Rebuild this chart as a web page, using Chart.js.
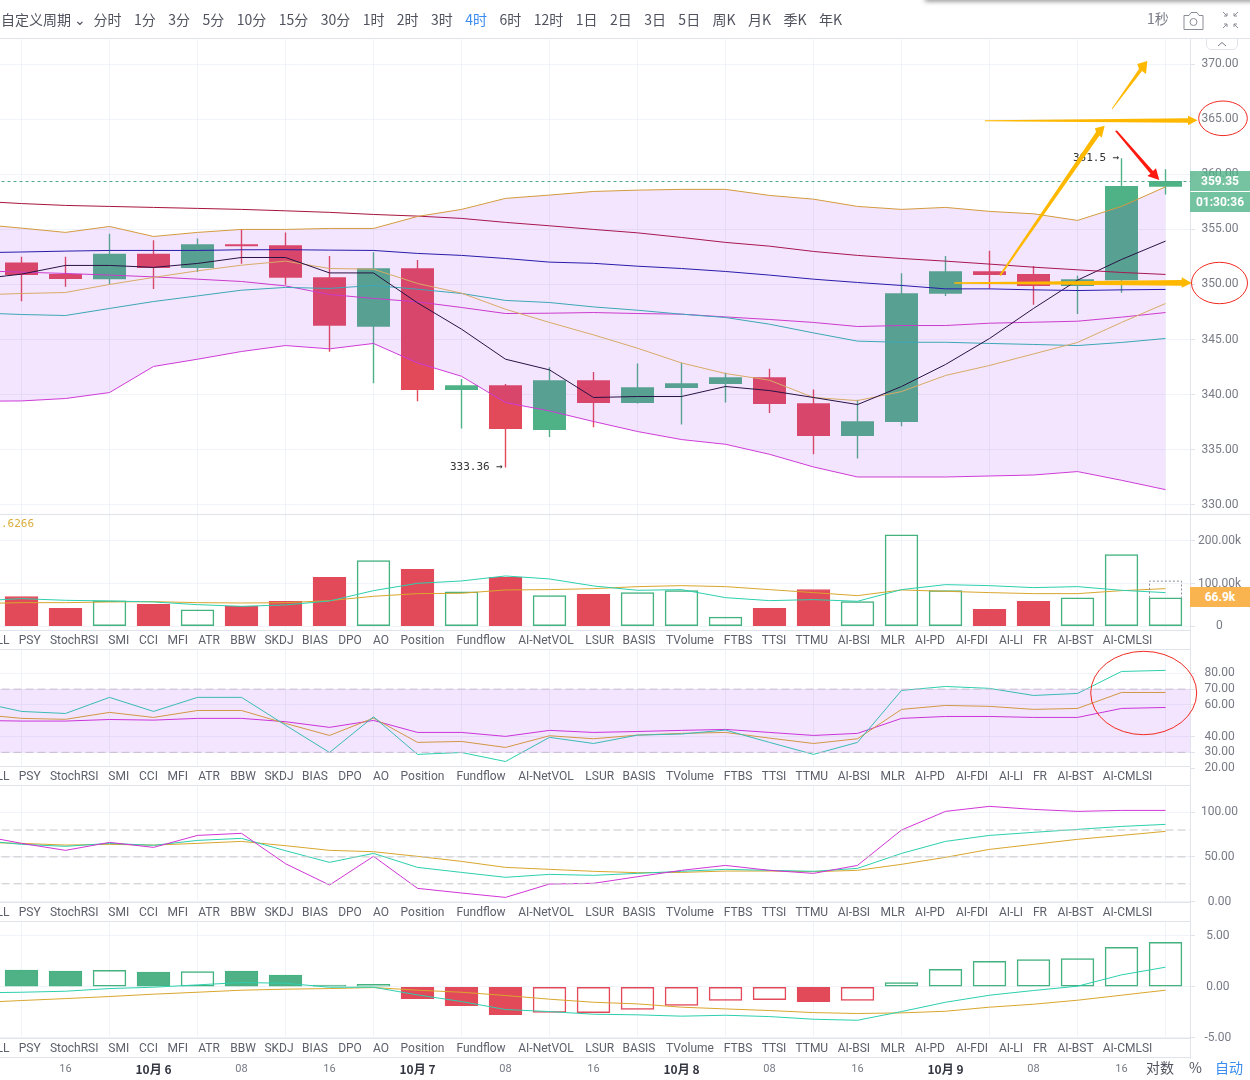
<!DOCTYPE html>
<html lang="zh">
<head>
<meta charset="utf-8">
<title>4时 K线</title>
<script src="https://cdn.jsdelivr.net/npm/chart.js@4/dist/chart.umd.min.js"></script>
<style>
  html, body { margin: 0; padding: 0; background: #fff; }
  #page { position: relative; width: 1250px; height: 1080px; overflow: hidden; font-family: Roboto, "Noto Sans CJK SC", sans-serif; }
  canvas { position: absolute; left: 0; top: 0; }
  .abs { position: absolute; white-space: nowrap; }
  #toolbar { left: 1px; top: 0; height: 37px; display: flex; gap: 12.45px; align-items: center; font: 14px "Noto Sans CJK SC", sans-serif; color: #50535e; }
  #toolbar .active { color: #3b8cf0; }
  #toolbar span:first-child { margin-right: -5px; }
  .tabs { left: 0; width: 1190px; height: 18px; line-height: 18px; background: #fff; border-top: 1px solid #e0e3eb; border-bottom: 1px solid #e0e3eb; font: 12px/18px Roboto, sans-serif; color: #5d606b; overflow: hidden; }
  .tabs span { position: absolute; top: 0; transform: translateX(-50%); }
  .rule { left: 0; width: 1250px; height: 1px; background: #e0e3eb; }
  .mono { font: 11px "DejaVu Sans Mono", monospace; color: #333; }
  .badge { left: 1190px; width: 60px; text-align: center; color: #fff; font: bold 12px Roboto, sans-serif; }
  .foot { top: 1058px; font: 14px "Noto Sans CJK SC", sans-serif; color: #50535e; line-height: 19px; }
</style>
</head>
<body>
<div id="page">
  <canvas id="chart" width="1250" height="1080"></canvas>

  <div class="abs" style="left:925px;top:-4px;width:330px;height:4px;box-shadow:0 1px 5px rgba(0,0,0,.55)"></div>
  <div class="abs" id="toolbar"></div>
  <div class="abs rule" style="top:38px"></div>
  <div class="abs rule" style="top:514px"></div>
  <div class="abs" style="left:1147px;top:8px;font:14px 'Noto Sans CJK SC',sans-serif;color:#787b86">1秒</div>

  <svg class="abs" style="left:1180px;top:8px" width="64" height="24" viewBox="0 0 64 24" fill="none" stroke="#8a8d96" stroke-width="1">
    <path d="M4 7.5h5l2-3h6l2 3h4v14H4z"/>
    <circle cx="13.5" cy="14" r="3.5"/>
    <path d="M43 4l4 4M47 5v3h-3M58 4l-4 4M54 5v3h3M43 20l4-4M47 19v-3h-3M58 20l-4-4M54 19v-3h3"/>
  </svg>
  <svg class="abs" style="left:1206px;top:39px" width="32" height="11" fill="#fff" stroke="#e0e3eb">
    <path d="M0.5 0v7l3 3.5h25l3-3.5V0"/>
    <path d="M12 7l4-3.5 4 3.5" stroke="#787b86" fill="none"/>
  </svg>

  <div class="abs mono" style="left:1px;top:517px;color:#d9ae3f">.6266</div>
  <div class="abs mono" style="left:450px;top:460px">333.36 →</div>
  <div class="abs mono" style="left:1073px;top:151px">361.5 →</div>

  <div class="abs badge" style="top:171px;height:20px;line-height:20px;background:rgba(78,178,134,.78)">359.35</div>
  <div class="abs badge" style="top:192px;height:20px;line-height:20px;background:#73c3a0">01:30:36</div>
  <div class="abs badge" style="top:587px;height:20px;line-height:20px;background:#f9b44f">66.9k</div>

  <div class="abs foot" style="left:1146px">对数</div>
  <div class="abs foot" style="left:1189px">%</div>
  <div class="abs foot" style="left:1215px;color:#3b8cf0">自动</div>

  <!-- hand drawn marks on top of the chart -->
  <svg class="abs" style="left:0;top:0" width="1250" height="1080">
    <g fill="#ffb800">
      <polygon points="999.3,275 1096,132 1095,128.3 1104.7,125.7 1101.7,137.7 1099.5,135.5 1000.8,276"/>
      <polygon points="1111.7,108.7 1139,69 1137.3,64 1147.3,61 1146,74 1142,71 1112.5,109"/>
      <polygon points="985,120.3 1188,118.3 1188,115.7 1197.5,120.3 1188,125.3 1188,122.7 985,121.3"/>
      <polygon points="954.3,282.3 1181.7,280 1181.7,277.3 1191.7,283 1181.7,287.7 1181.7,285.7 954.3,283.7"/>
    </g>
    <polygon fill="#ff1a10" points="1115,131 1117,130.5 1153,171 1156,168.3 1159.3,180 1147.3,176 1150.5,173.8"/>
    <g fill="none" stroke="#f02a20" stroke-width="1">
      <ellipse cx="1223" cy="118.3" rx="24.3" ry="17.3"/>
      <ellipse cx="1219.5" cy="283" rx="28" ry="20.7"/>
      <ellipse cx="1143.7" cy="693" rx="53" ry="41.7"/>
    </g>
  </svg>
</div>

<script>
const periods = ['自定义周期 ⌄', '分时', '1分', '3分', '5分', '10分', '15分', '30分', '1时', '2时', '3时', '4时', '6时', '12时', '1日', '2日', '3日', '5日', '周K', '月K', '季K', '年K'];
const activePeriod = '4时';
const indicatorTabs = ['LL', 'PSY', 'StochRSI', 'SMI', 'CCI', 'MFI', 'ATR', 'BBW', 'SKDJ', 'BIAS', 'DPO', 'AO', 'Position', 'Fundflow', 'AI-NetVOL', 'LSUR', 'BASIS', 'TVolume', 'FTBS', 'TTSI', 'TTMU', 'AI-BSI', 'MLR', 'AI-PD', 'AI-FDI', 'AI-LI', 'FR', 'AI-BST', 'AI-CMLSI'];
const tabCenters = [3, 29.7, 74.2, 118.8, 148.5, 177.8, 209, 243, 279, 315, 350, 381, 422.5, 481, 546, 599.7, 639, 690, 738, 774, 811.8, 853.9, 892.7, 930, 972, 1011, 1040, 1075.5, 1127.5];

// bottom axis, one label every second candle starting at candle 1
const timeLabels = ['16', '10月 6', '08', '16', '10月 7', '08', '16', '10月 8', '08', '16', '10月 9', '08', '16'];

// candles
const candleOpen = [352.0, 350.96, 350.48, 352.8, 351.5, 353.66, 353.57, 350.66, 346.15, 351.48, 340.42, 340.85, 336.78, 341.3, 339.24, 340.6, 340.96, 341.57, 339.2, 336.24, 337.5, 349.15, 351.2, 350.94, 349.87, 350.39, 358.87];
const candleClose = [350.87, 350.5, 352.8, 351.5, 353.66, 353.48, 350.6, 346.24, 351.48, 340.42, 340.85, 336.87, 341.3, 339.24, 340.66, 341.03, 341.57, 339.15, 336.24, 337.57, 349.2, 351.2, 350.85, 349.87, 350.48, 358.94, 359.39];
const candleHigh = [352.5, 352.5, 354.6, 354.0, 354.15, 355.0, 354.7, 352.57, 352.9, 352.2, 341.4, 340.94, 342.45, 342.03, 342.8, 342.87, 341.96, 342.33, 340.45, 339.5, 351.0, 352.57, 353.05, 351.66, 350.78, 361.45, 360.45];
const candleLow = [348.5, 349.8, 350.03, 349.6, 351.15, 351.9, 350.0, 343.9, 341.05, 339.4, 336.94, 333.4, 336.15, 337.05, 339.2, 337.3, 339.3, 338.33, 334.6, 334.2, 337.14, 348.96, 349.64, 348.18, 347.33, 349.27, 358.2];
const lastPrice = 359.35;

// main panel lines, first value sits one candle left of the view
const mainRed = [357.57, 357.35, 357.18, 357.09, 357.0, 356.91, 356.82, 356.69, 356.55, 356.36, 356.21, 356.0, 355.64, 355.33, 355.0, 354.69, 354.27, 353.82, 353.48, 353.0, 352.64, 352.36, 352.12, 351.85, 351.57, 351.33, 351.09, 350.91];
const mainBlue = [352.88, 352.95, 353.03, 353.09, 353.09, 353.09, 353.15, 353.16, 353.12, 353.09, 352.82, 352.64, 352.36, 352.03, 351.92, 351.66, 351.45, 351.18, 350.85, 350.48, 350.18, 349.91, 349.6, 349.6, 349.51, 349.45, 349.51, 349.55];
const bandUpper = [355.48, 355.12, 354.73, 355.27, 354.36, 354.73, 355.0, 355.0, 355.09, 355.09, 356.18, 356.82, 357.82, 358.12, 358.45, 358.57, 358.64, 358.64, 358.09, 357.75, 357.09, 356.82, 357.0, 356.64, 356.42, 355.82, 357.09, 358.87];
const mainBlack = [350.48, 350.94, 351.73, 351.73, 351.55, 351.91, 352.45, 352.45, 351.05, 351.05, 348.33, 345.94, 343.21, 342.24, 339.73, 339.82, 339.82, 340.73, 340.36, 339.73, 339.09, 340.73, 342.73, 345.09, 347.82, 350.39, 352.27, 353.94];
const mainYellow = [349.05, 349.18, 349.27, 350.0, 350.64, 351.24, 351.75, 352.12, 351.45, 351.39, 350.09, 349.21, 347.75, 346.55, 345.42, 344.21, 342.87, 341.91, 341.3, 339.73, 339.45, 340.27, 341.73, 342.64, 343.69, 344.73, 346.55, 348.27];
const mainTeal = [347.42, 347.27, 347.18, 347.82, 348.45, 348.96, 349.48, 349.73, 349.64, 349.91, 349.57, 349.18, 348.55, 348.36, 347.96, 347.66, 347.3, 347.0, 346.39, 345.6, 344.85, 344.75, 344.75, 344.64, 344.55, 344.45, 344.73, 345.09];
const mainMagenta = [351.25, 351.12, 351.0, 350.85, 350.69, 350.48, 350.27, 349.87, 349.09, 348.73, 348.42, 347.91, 347.36, 347.39, 347.45, 347.36, 347.3, 347.05, 346.82, 346.55, 346.18, 346.27, 346.27, 346.48, 346.57, 346.66, 347.03, 347.45];
const bandLower = [339.39, 339.42, 339.64, 340.18, 342.55, 343.21, 343.91, 344.45, 344.15, 344.64, 342.87, 341.66, 339.27, 338.51, 337.55, 336.64, 335.91, 335.48, 334.57, 333.42, 332.51, 332.51, 332.51, 332.6, 332.69, 333.0, 332.21, 331.36];

// volume panel, values in k
const volumeBars = [70, 42, 60, 51.5, 39, 47, 58.5, 115, 154, 133.5, 81, 115, 72, 75, 79, 83.6, 22, 42, 86, 58, 214.7, 83.6, 40, 58.5, 67, 168, 66.9];
const volumeHollow = [0, 0, 1, 0, 1, 0, 0, 0, 1, 0, 1, 0, 1, 0, 1, 1, 1, 0, 0, 1, 1, 1, 0, 0, 1, 1, 1];
const volumeForecast = 107;
const volumeFast = [59.3, 64.8, 60.9, 59.3, 57, 50.7, 46.8, 50, 59.3, 83.5, 100.7, 106.2, 117.9, 110.9, 94.5, 84.3, 85.9, 67.1, 60.1, 62.5, 58.6, 85.9, 97.6, 95.2, 90.6, 92.9, 84.3, 78.9];
const volumeSlow = [53.1, 55.4, 55.4, 57, 57.8, 55.4, 54.6, 55.4, 60.1, 70.3, 76.5, 77.3, 85.1, 85.9, 88.2, 92.9, 95.2, 92.9, 85.9, 78.9, 71.8, 85.1, 82, 78.9, 76.5, 76.5, 83.5, 88.2];

// third panel
const rsiFast = [62, 55.9, 54.6, 64.8, 55.9, 64.8, 64.8, 47.2, 29.9, 52.5, 28.7, 29.9, 24.2, 39.5, 35.6, 40.9, 41.6, 44.1, 36.3, 28.7, 36.3, 69.2, 71.7, 70.5, 66, 67.3, 81.2, 81.9];
const rsiMid = [54.2, 51.5, 50.9, 55.3, 52.1, 56.5, 56.5, 48.3, 40.7, 51.7, 36.3, 36.9, 33.1, 40.5, 38.6, 40.9, 42, 42.6, 39, 35.6, 38.6, 57.2, 59.7, 59.1, 57.2, 57.8, 67.9, 67.9];
const rsiSlow = [50.2, 49.8, 49.8, 50.8, 50.4, 51.5, 51.5, 49.4, 45.8, 50.2, 42.6, 42.6, 40.1, 43.9, 42.6, 43.2, 43.9, 44.5, 42.6, 40.7, 42, 51.5, 52.7, 52.7, 52.1, 52.1, 57.8, 58.4];
const rsiBandTop = 70;
const rsiBandBottom = 30;

// fourth panel
const kdjJ = [74.4, 65.1, 57.3, 66.2, 60.6, 74, 76.3, 42.4, 18.6, 50.6, 14.9, 9.7, 4.8, 19.7, 20.5, 27.9, 35, 40.5, 35, 31.6, 40.5, 80, 100.8, 106.4, 103, 100.8, 101.9, 101.9];
const kdjK = [68.8, 64, 61.8, 65.1, 62.9, 68.4, 70.7, 56.9, 43.9, 53.9, 38.3, 32.7, 27.2, 30.5, 29.4, 31.6, 33.9, 36.1, 35, 33.9, 37.2, 53.9, 67.3, 74, 77.4, 80.7, 84, 86.3];
const kdjD = [66.2, 65.1, 63.2, 64, 63.2, 65.1, 67.3, 62.5, 57.3, 55.8, 50.6, 45, 38.3, 36.1, 33.9, 32.4, 32.7, 34.2, 34.2, 33.5, 35, 41.7, 49.5, 58.4, 64, 69.6, 74, 78.5];
const kdjLevels = [80, 50, 20];

// fifth panel
const macdBars = [1.63, 1.53, 1.6, 1.43, 1.5, 1.53, 1.14, 0.16, 0.23, -1.17, -1.86, -2.74, -2.51, -2.54, -2.22, -1.83, -1.34, -1.27, -1.47, -1.34, 0.42, 1.7, 2.48, 2.67, 2.77, 3.85, 4.34];
const macdHollow = [0, 0, 1, 0, 1, 0, 0, 0, 1, 0, 0, 0, 1, 1, 1, 1, 1, 1, 0, 1, 1, 1, 1, 1, 1, 1, 1];
const macdFast = [-0.6, -0.54, -0.44, -0.18, -0.05, 0.18, 0.41, 0.34, -0.05, -0.05, -0.8, -1.45, -2.23, -2.43, -2.69, -2.75, -2.88, -2.79, -2.92, -3.18, -3.28, -2.43, -1.52, -0.83, -0.37, 0.05, 1.16, 1.91];
const macdSlow = [-1.55, -1.35, -1.16, -0.96, -0.73, -0.54, -0.34, -0.24, -0.18, -0.08, -0.34, -0.54, -0.86, -1.22, -1.52, -1.68, -2, -2.17, -2.33, -2.53, -2.62, -2.56, -2.4, -2, -1.71, -1.32, -0.83, -0.34];

// y axis ticks
const mainTicks = [330, 335, 340, 345, 350, 355, 360, 365, 370];
const volumeTicks = [0, 100, 200];
const rsiTicks = [20, 30, 40, 60, 70, 80];
const kdjTicks = [0, 50, 100];
const macdTicks = [-5, 0, 5];

const RED = '#e24a5a';
const GREEN = '#4fb286';
const TEAL = '#2dcfae';
const GOLD = '#d9a62e';
const MAGENTA = '#d135d6';
const GRID = '#f0f3fa';
const AXIS = '#e0e3eb';
const TICK_TEXT = '#787b86';

// toolbar and tab rows
const toolbar = document.getElementById('toolbar');
periods.forEach(p => {
  const el = document.createElement('span');
  el.textContent = p;
  if (p === activePeriod) el.className = 'active';
  toolbar.appendChild(el);
});
[630, 766, 902, 1038].forEach(top => {
  const row = document.createElement('div');
  row.className = 'abs tabs';
  row.style.top = top + 'px';
  indicatorTabs.forEach((name, i) => {
    const el = document.createElement('span');
    el.textContent = name;
    el.style.left = tabCenters[i] + 'px';
    row.appendChild(el);
  });
  document.getElementById('page').appendChild(row);
});

const lineXs = mainRed.map((_, i) => i - 1);

function lineSet(values, color, axis, extra) {
  return Object.assign({
    type: 'line',
    data: values.map((y, i) => ({ x: lineXs[i], y: y })),
    yAxisID: axis,
    borderColor: color,
    borderWidth: 1,
    pointRadius: 0,
    tension: 0,
    fill: false,
    order: 2
  }, extra);
}

function levelSet(value, color, axis, extra) {
  return Object.assign({
    type: 'line',
    data: [{ x: -1, y: value }, { x: 27, y: value }],
    yAxisID: axis,
    borderColor: color,
    borderWidth: 1,
    borderDash: [8, 4],
    pointRadius: 0,
    fill: false,
    order: 2
  }, extra);
}

function barSet(values, hollow, axis) {
  const colors = values.map((v, i) => {
    if (axis === 'yVolume') return hollow[i] ? '#43b27f' : RED;
    return v >= 0 ? '#43b27f' : RED;
  });
  return {
    type: 'bar',
    grouped: false,
    data: values.map((y, i) => ({ x: i, y: y })),
    yAxisID: axis,
    barThickness: 33,
    inflateAmount: 0.25,
    borderWidth: 1,
    borderSkipped: false,
    borderColor: colors,
    backgroundColor: colors.map((c, i) => hollow[i] ? 'transparent' : (c === RED ? RED : GREEN)),
    order: 3
  };
}

const candleColors = candleOpen.map((o, i) => candleClose[i] >= o ? GREEN : RED);

const datasets = [
  // wicks
  {
    type: 'bar', grouped: false, yAxisID: 'yMain', barThickness: 1, inflateAmount: 0.2, order: 4,
    data: candleHigh.map((h, i) => ({ x: i, y: [candleLow[i], h] })),
    backgroundColor: candleColors
  },
  // bodies
  {
    type: 'bar', grouped: false, yAxisID: 'yMain', barThickness: 33, inflateAmount: 0, order: 3,
    data: candleOpen.map((o, i) => ({ x: i, y: [o, candleClose[i]] })),
    backgroundColor: candleColors
  },
  lineSet(mainRed, '#a8143c', 'yMain'),
  lineSet(mainBlue, '#1a1aa0', 'yMain'),
  lineSet(mainBlack, '#1a0f2e', 'yMain'),
  lineSet(mainYellow, '#e0bd55', 'yMain'),
  lineSet(mainTeal, '#2fb8b0', 'yMain'),
  lineSet(mainMagenta, '#d23dc9', 'yMain'),
  levelSet(lastPrice, '#53a587', 'yMain', { borderDash: [3, 3] })
];

// the band is filled last so it tints the candles under it
const lowerIndex = datasets.length;
datasets.push(lineSet(bandLower, '#d23dd6', 'yMain'));
datasets.push(lineSet(bandUpper, '#d49a3f', 'yMain', {
  fill: { target: lowerIndex },
  backgroundColor: 'rgba(156,39,240,0.12)',
  order: 1
}));

datasets.push(
  barSet(volumeBars, volumeHollow, 'yVolume'),
  lineSet(volumeFast, TEAL, 'yVolume'),
  lineSet(volumeSlow, GOLD, 'yVolume'),
  levelSet(rsiBandBottom, '#c9b8d4', 'yRsi')
);
const rsiBottomIndex = datasets.length - 1;
datasets.push(
  levelSet(rsiBandTop, '#c9b8d4', 'yRsi', {
    fill: { target: rsiBottomIndex },
    backgroundColor: 'rgba(156,39,240,0.12)'
  }),
  lineSet(rsiFast, TEAL, 'yRsi'),
  lineSet(rsiMid, GOLD, 'yRsi'),
  lineSet(rsiSlow, MAGENTA, 'yRsi')
);
kdjLevels.forEach(v => datasets.push(levelSet(v, '#c8c8c8', 'yKdj')));
datasets.push(
  lineSet(kdjJ, MAGENTA, 'yKdj'),
  lineSet(kdjK, TEAL, 'yKdj'),
  lineSet(kdjD, GOLD, 'yKdj'),
  barSet(macdBars, macdHollow, 'yMacd'),
  lineSet(macdFast, TEAL, 'yMacd'),
  lineSet(macdSlow, GOLD, 'yMacd')
);

function yScale(min, max, weight, ticks, padding, format) {
  return {
    type: 'linear',
    position: 'right',
    stack: 'panels',
    stackWeight: weight,
    min: min,
    max: max,
    afterBuildTicks: scale => { scale.ticks = ticks.map(v => ({ value: v })); },
    afterFit: scale => { scale.width = 60; },
    grid: { color: GRID, tickColor: AXIS, tickLength: 5 },
    border: { color: AXIS },
    ticks: {
      autoSkip: false,
      crossAlign: 'center',
      padding: padding,
      color: TICK_TEXT,
      font: { family: 'Roboto', size: 12 },
      callback: format
    }
  };
}

const fixed2 = v => Number(v).toFixed(2);
const isDateTick = ctx => !!ctx.tick && timeLabels[(ctx.tick.value - 1) / 2].includes('月');

// dashed outline of the still forming volume
const forecastBox = {
  id: 'forecastBox',
  afterDatasetsDraw(chart) {
    const last = volumeBars.length - 1;
    const x = chart.scales.x.getPixelForValue(last);
    const top = chart.scales.yVolume.getPixelForValue(volumeForecast);
    const bottom = chart.scales.yVolume.getPixelForValue(volumeBars[last]);
    const ctx = chart.ctx;
    ctx.save();
    ctx.strokeStyle = '#8a8d96';
    ctx.setLineDash([2, 2]);
    ctx.beginPath();
    ctx.moveTo(x - 16, bottom);
    ctx.lineTo(x - 16, top + 0.5);
    ctx.lineTo(x + 16, top + 0.5);
    ctx.lineTo(x + 16, bottom);
    ctx.stroke();
    ctx.restore();
  }
};

new Chart(document.getElementById('chart'), {
  data: { datasets: datasets },
  plugins: [forecastBox],
  options: {
    responsive: false,
    animation: false,
    events: [],
    layout: { padding: { top: 39, left: 0, right: 0, bottom: 0 } },
    plugins: { legend: { display: false }, tooltip: { enabled: false } },
    scales: {
      x: {
        type: 'linear',
        position: 'bottom',
        min: -0.48864,
        max: 26.5568,
        offset: false,
        afterBuildTicks: scale => {
          scale.ticks = timeLabels.map((_, i) => ({ value: 1 + i * 2 }));
        },
        afterFit: scale => { scale.height = 21.7; },
        grid: { color: GRID, drawTicks: false },
        border: { display: false },
        ticks: {
          autoSkip: false,
          maxRotation: 0,
          padding: 4,
          callback: v => timeLabels[(v - 1) / 2],
          color: ctx => isDateTick(ctx) ? '#333640' : TICK_TEXT,
          font: ctx => isDateTick(ctx)
            ? { family: '"Noto Sans CJK SC"', size: 12, weight: 'bold' }
            : { family: 'Roboto', size: 11 }
        }
      },
      yMain: yScale(329.12, 372.3, 475.3, mainTicks, 6.5, fixed2),
      yVolume: yScale(-56.2, 262.3, 136, volumeTicks, 3, v => v === 0 ? '0' : v.toFixed(2) + 'k'),
      yRsi: yScale(8.5, 94.6, 136, rsiTicks, 9.5, fixed2),
      yKdj: yScale(-23, 128.8, 136, kdjTicks, 6, fixed2),
      yMacd: yScale(-7, 6.3, 136, macdTicks, 9.5, fixed2)
    }
  }
});
</script>
</body>
</html>
